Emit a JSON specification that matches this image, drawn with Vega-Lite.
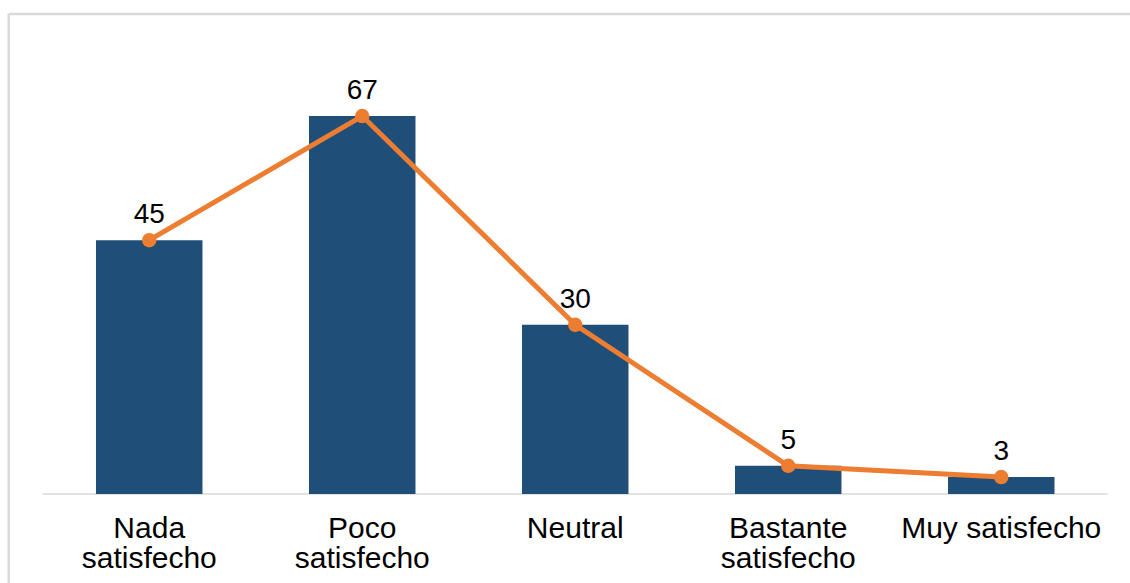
{
  "$schema": "https://vega.github.io/schema/vega-lite/v6.json",
  "width": 1121.25,
  "height": 569.5,
  "autosize": {"type": "none"},
  "padding": {"left": 8.75, "top": 13.5, "right": 0, "bottom": 0},
  "background": "#ffffff",
  "config": {"font": "Liberation Sans", "view": {"stroke": null}},
  "data": {
    "values": [
      {"categoria": "Nada satisfecho", "valor": 45},
      {"categoria": "Poco satisfecho", "valor": 67},
      {"categoria": "Neutral", "valor": 30},
      {"categoria": "Bastante satisfecho", "valor": 5},
      {"categoria": "Muy satisfecho", "valor": 3}
    ]
  },
  "layer": [
    {
      "mark": {"type": "tick", "color": "#d9d9d9", "size": 213, "thickness": 1.5, "opacity": 1},
      "encoding": {
        "x": {
          "field": "categoria", "type": "nominal", "sort": null,
          "scale": {"paddingInner": 0.5, "paddingOuter": 0.382, "align": 0.536},
          "axis": {"orient": "top", "domain": true, "domainColor": "#d9d9d9", "domainWidth": 2.5, "labels": false, "ticks": false, "grid": false, "title": null}
        },
        "y": {
          "datum": 0, "type": "quantitative",
          "scale": {"domain": [-15.77, 85.17], "nice": false, "zero": false},
          "axis": null
        }
      }
    },
    {
      "transform": [{"filter": "datum.categoria == 'Nada satisfecho'"}],
      "mark": {"type": "rule", "color": "#d9d9d9", "strokeWidth": 2.5},
      "encoding": {
        "x": {"field": "categoria", "type": "nominal", "sort": null, "bandPosition": -0.819, "axis": null}
      }
    },
    {
      "mark": {"type": "bar", "color": "#1F4E79"},
      "encoding": {
        "x": {
          "field": "categoria", "type": "nominal", "sort": null,
          "axis": {
            "orient": "bottom", "offset": -89, "domain": false, "ticks": false, "grid": false, "title": null,
            "labelAngle": 0, "labelFont": "Liberation Sans", "labelFontSize": 30, "labelColor": "#000000",
            "labelPadding": 19.3, "labelLineHeight": 30, "labelLimit": 400,
            "labelExpr": "datum.label == 'Muy satisfecho' || datum.label == 'Neutral' ? datum.label : split(datum.label, ' ')"
          }
        },
        "y": {"field": "valor", "type": "quantitative", "axis": null},
        "y2": {"datum": 0}
      }
    },
    {
      "mark": {"type": "line", "color": "#ED7D31", "strokeWidth": 5, "point": {"filled": true, "size": 210, "color": "#ED7D31"}},
      "encoding": {
        "x": {"field": "categoria", "type": "nominal", "sort": null, "axis": null},
        "y": {"field": "valor", "type": "quantitative", "axis": null}
      }
    },
    {
      "mark": {"type": "text", "baseline": "alphabetic", "dy": -17, "fontSize": 28, "color": "#000000", "font": "Liberation Sans"},
      "encoding": {
        "x": {"field": "categoria", "type": "nominal", "sort": null, "axis": null},
        "y": {"field": "valor", "type": "quantitative", "axis": null},
        "text": {"field": "valor", "type": "quantitative"}
      }
    }
  ]
}
